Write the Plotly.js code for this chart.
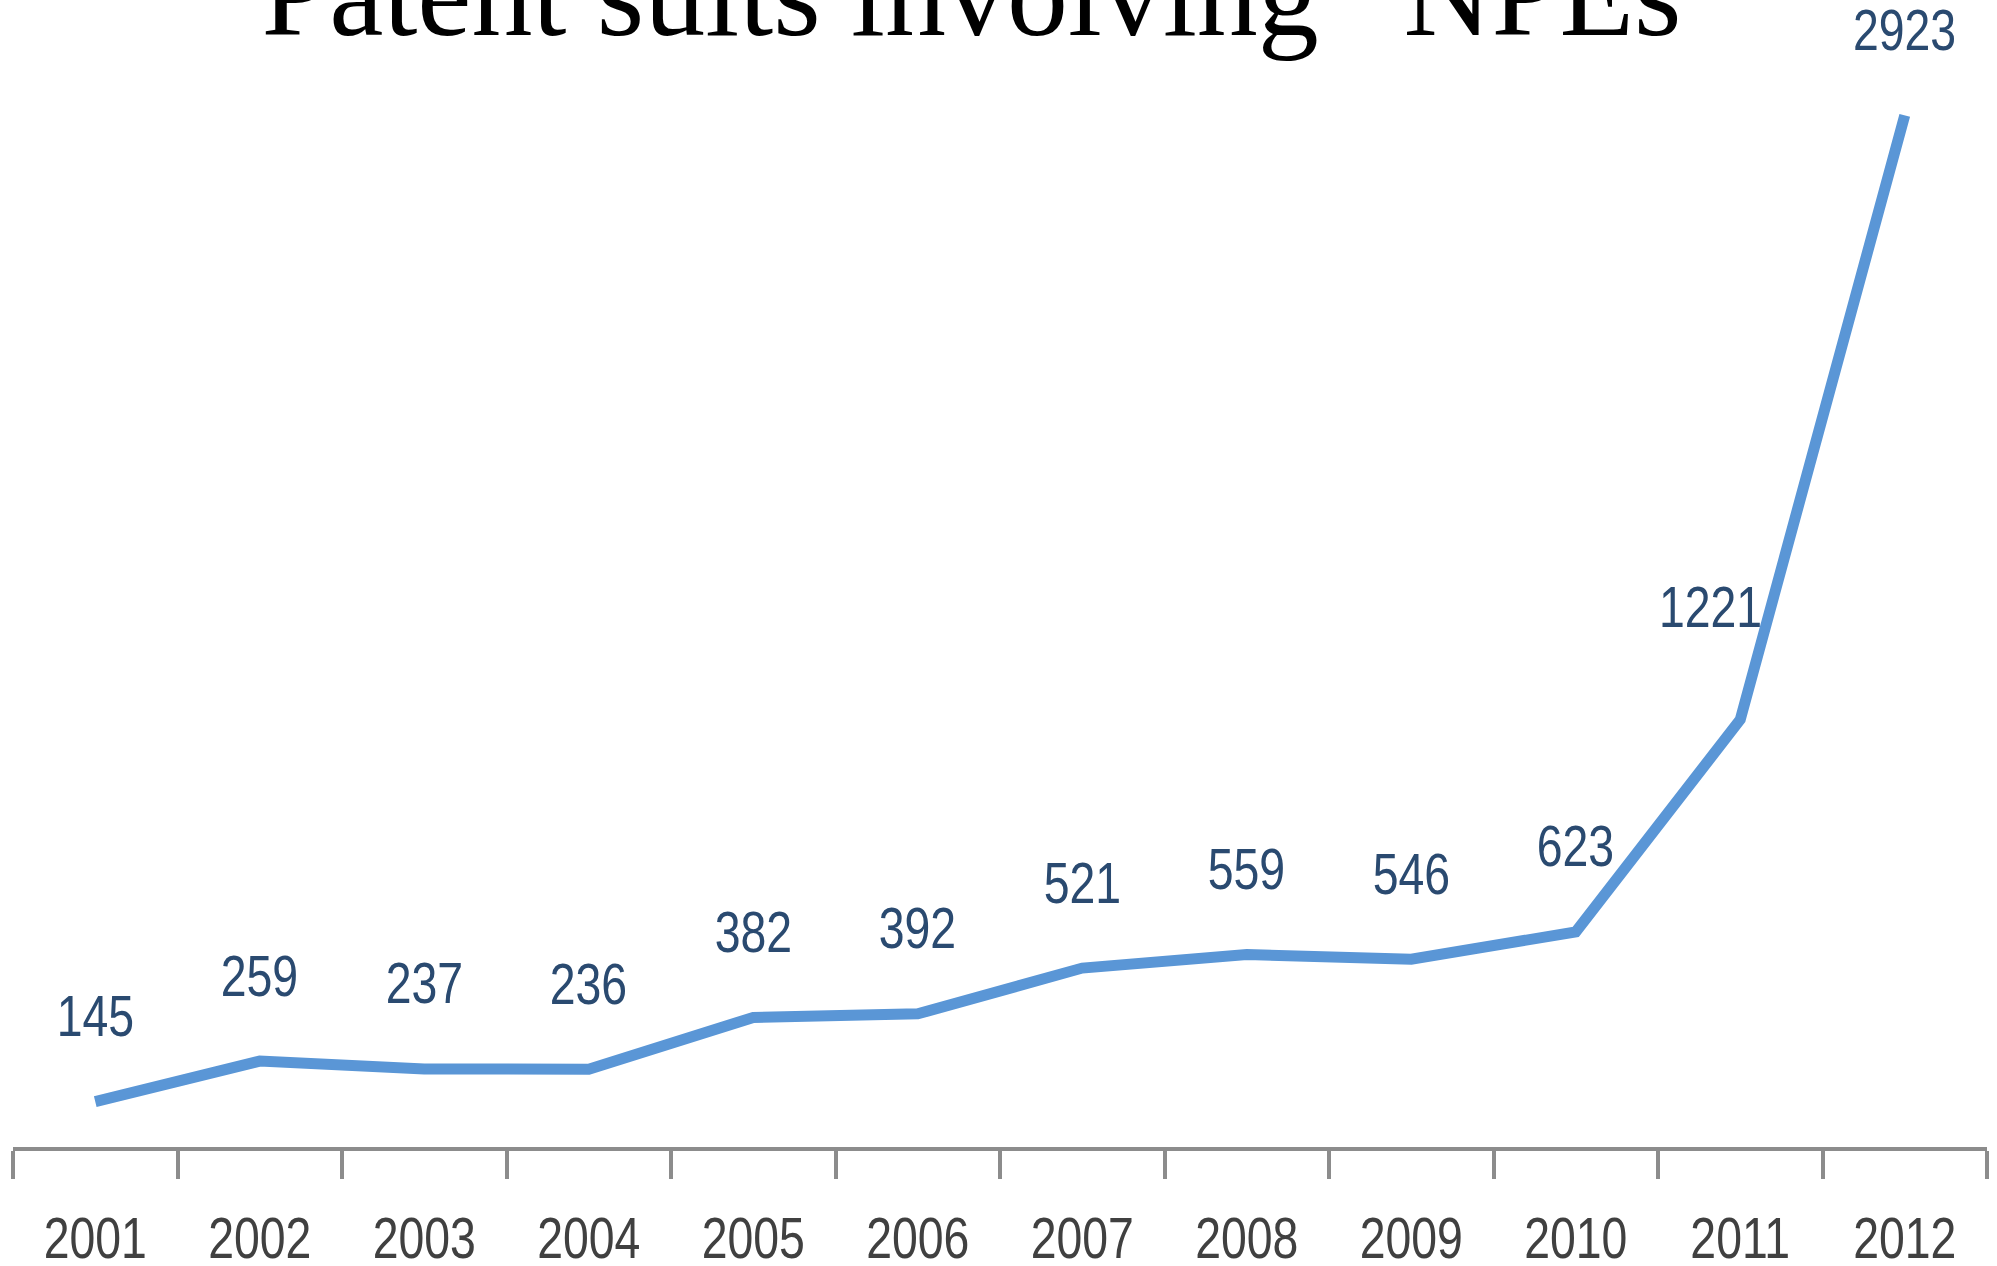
<!DOCTYPE html>
<html>
<head>
<meta charset="utf-8">
<script src="https://cdn.plot.ly/plotly-3.0.1.min.js"></script>
<style>
html,body{margin:0;padding:0;background:#fff;}
#chart{width:1997px;height:1266px;}
#chart g.xtick, #chart text.annotation-text {
  transform-box: fill-box; transform-origin: center; transform: scaleX(0.8);
}
</style>
</head>
<body>
<div id="chart"></div>
<script>
const years = ["2001","2002","2003","2004","2005","2006","2007","2008","2009","2010","2011","2012"];
const suits = [145, 259, 237, 236, 382, 392, 521, 559, 546, 623, 1221, 2923];
const chartTitle = 'Patent suits involving \u201cNPEs\u201d';

const sansFamily = '"Liberation Sans", Arial, sans-serif';

const annotations = years.map((yr, i) => ({
  x: i, y: suits[i], xref: 'x', yref: 'y',
  text: String(suits[i]), showarrow: false,
  font: {family: sansFamily, size: 58, color: '#2a4a70'},
  xanchor: 'center', yanchor: 'middle',
  yshift: (i === 10 ? 113 : 86), xshift: (i === 10 ? -30 : 0)
}));

const trace = {
  x: years, y: suits, type: 'scatter', mode: 'lines',
  line: {color: '#5a96d6', width: 11},
  hoverinfo: 'skip'
};

const layout = {
  width: 1997, height: 1266,
  paper_bgcolor: '#ffffff', plot_bgcolor: '#ffffff',
  margin: {l: 13, r: 10, t: 88, b: 119, pad: 0},
  showlegend: false,
  title: {
    text: chartTitle,
    font: {family: '"Liberation Serif", "Times New Roman", serif', size: 122, color: '#000000'},
    x: 0.5, xanchor: 'center', xref: 'container',
    y: 1 - 35/1266, yanchor: 'bottom', yref: 'container'
  },
  xaxis: {
    type: 'category', range: [-0.5, 11.5], fixedrange: true,
    showline: true, linecolor: '#8c8c8c', linewidth: 4,
    ticks: 'outside', tickson: 'boundaries', ticklen: 28, tickwidth: 4, tickcolor: '#8c8c8c',
    ticklabelstandoff: 37,
    showgrid: false, zeroline: false,
    tickfont: {family: sansFamily, size: 58, color: '#404040'}
  },
  yaxis: {
    range: [17, 3000], visible: false, showgrid: false, zeroline: false, fixedrange: true
  },
  annotations: annotations
};

Plotly.newPlot('chart', [trace], layout, {displayModeBar: false, staticPlot: true});
</script>
</body>
</html>
